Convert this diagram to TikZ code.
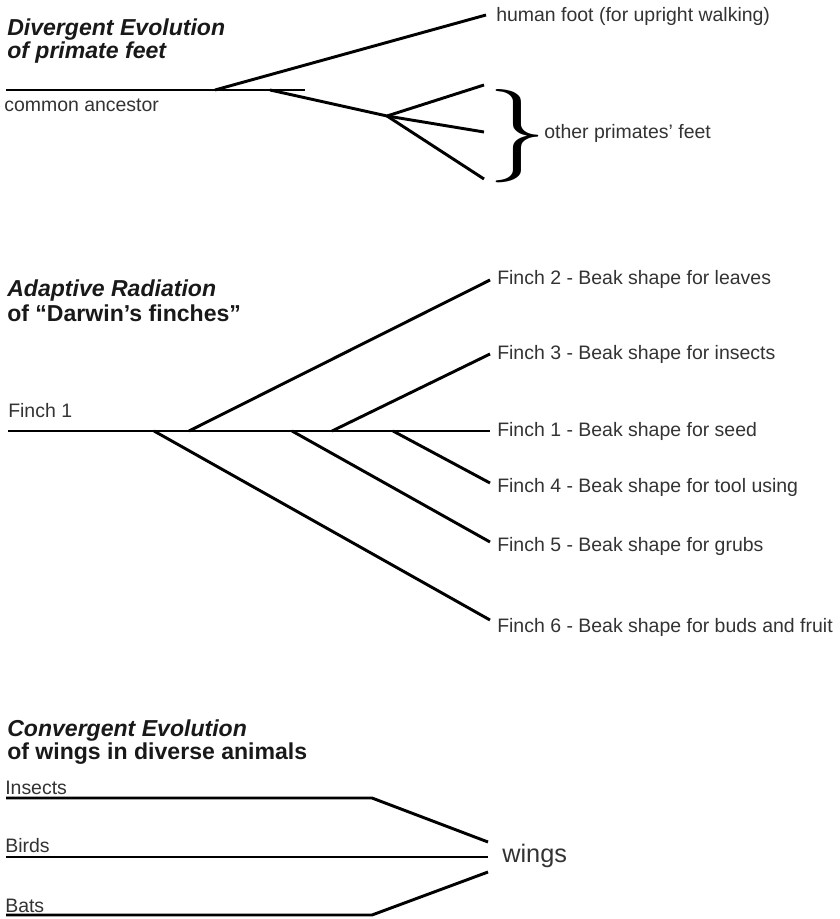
\documentclass[tikz,border=0pt]{standalone}
\usepackage{fontspec}
\setmainfont{Liberation Sans}
\usepackage{graphicx}
\definecolor{labelgray}{rgb}{0.2,0.2,0.2}
\definecolor{titleblack}{rgb}{0.1,0.1,0.1}
\begin{document}
\begin{tikzpicture}[x=0.75pt,y=-0.75pt,
  br/.style={line width=2.2pt, line join=round},
  lbl/.style={inner sep=0, anchor=base west, font=\fontsize{14.6}{17}\selectfont, text=labelgray},
  ttl/.style={inner sep=0, anchor=base west, font=\fontsize{17.3}{20}\selectfont\bfseries, text=titleblack}]
\useasboundingbox (0,0) rectangle (839,919);
\fill[white] (0,0) rectangle (839,919);

% ---------- Divergent evolution ----------
\node[ttl] (t1a) at (7,36) {\itshape Divergent Evolution};
\node[ttl] (t1b) at (7,59) {\itshape of primate feet};
\node[lbl] (anc) at (4,112) {common ancestor};
\node[lbl] (human) at (496,22) {human foot (for upright walking)};
\node[lbl] (others) at (544,139) {other primates’ feet};
\node[inner sep=0] (brace) at (517,136) {\scalebox{9}[7]{$\}$}};

\coordinate (a0) at (6,90);
\coordinate (aend) at (305,90);
\coordinate (ah) at (215,90);
\coordinate (al) at (270,90);
\coordinate (ahum) at (486,15);
\coordinate (ab) at (387,116);
\coordinate (ap1) at (484,85);
\coordinate (ap2) at (484,132);
\coordinate (ap3) at (484,179);
\draw[br] (a0) -- (aend);
\draw[br] (ah) -- (ahum);
\draw[br] (al) -- (ab);
\draw[br] (ab) -- (ap1);
\draw[br] (ab) -- (ap2);
\draw[br] (ab) -- (ap3);

% ---------- Adaptive radiation ----------
\node[ttl] (t2a) at (7,297) {\itshape Adaptive Radiation};
\node[ttl] (t2b) at (7,321) {of “Darwin’s finches”};
\node[lbl] (f1left) at (8,417) {Finch 1};
\node[lbl] (f2) at (497,285) {Finch 2 - Beak shape for leaves};
\node[lbl] (f3) at (497,359) {Finch 3 - Beak shape for insects};
\node[lbl] (f1) at (497,436) {Finch 1 - Beak shape for seed};
\node[lbl] (f4) at (497,492) {Finch 4 - Beak shape for tool using};
\node[lbl] (f5) at (497,551) {Finch 5 - Beak shape for grubs};
\node[lbl] (f6) at (497,632) {Finch 6 - Beak shape for buds and fruit};

\coordinate (b0) at (8,431);
\coordinate (bend) at (490,431);
\coordinate (b6) at (154,431);
\coordinate (b2) at (189,431);
\coordinate (b5) at (292,431);
\coordinate (b3) at (332,431);
\coordinate (b4) at (393,431);
\coordinate (e2) at (490,280);
\coordinate (e3) at (490,354);
\coordinate (e4) at (490,483);
\coordinate (e5) at (490,542);
\coordinate (e6) at (490,620);
\draw[br] (b0) -- (bend);
\draw[br] (b6) -- (e6);
\draw[br] (b2) -- (e2);
\draw[br] (b5) -- (e5);
\draw[br] (b3) -- (e3);
\draw[br] (b4) -- (e4);

% ---------- Convergent evolution ----------
\node[ttl] (t3a) at (7,736) {\itshape Convergent Evolution};
\node[ttl] (t3b) at (7,759) {of wings in diverse animals};
\node[lbl] (ins) at (5,794) {Insects};
\node[lbl] (bir) at (5,852) {Birds};
\node[lbl] (bat) at (5,912) {Bats};
\node[inner sep=0, anchor=base west, font=\fontsize{19}{22}\selectfont, text=labelgray] (wings) at (502,862) {wings};

\coordinate (i0) at (6,798);
\coordinate (i1) at (372,798);
\coordinate (i2) at (488,842);
\coordinate (r0) at (6,857);
\coordinate (r1) at (488,857);
\coordinate (s0) at (6,915);
\coordinate (s1) at (372,915);
\coordinate (s2) at (488,872);
\draw[br] (i0) -- (i1) -- (i2);
\draw[br] (r0) -- (r1);
\draw[br] (s0) -- (s1) -- (s2);
\end{tikzpicture}
\end{document}
